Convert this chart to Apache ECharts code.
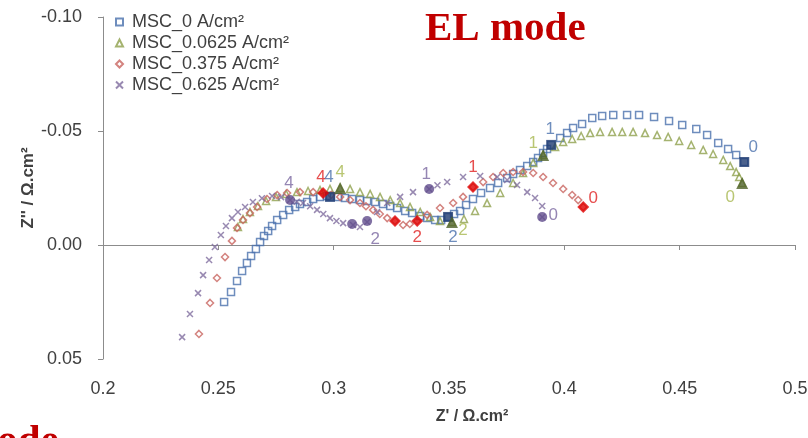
<!DOCTYPE html>
<html>
<head>
<meta charset="utf-8">
<script src="https://cdn.jsdelivr.net/npm/echarts@6/dist/echarts.min.js"></script>
<style>
  html, body { margin: 0; padding: 0; background: #fff; }
  #main { width: 808px; height: 438px; }
</style>
</head>
<body>
<div id="main"></div>
<script>
// Nyquist plot, EL mode. [Z', Z''] pairs, Z'' axis is drawn inverted
var names = ['MSC_0 A/cm²', 'MSC_0.0625 A/cm²', 'MSC_0.375 A/cm²', 'MSC_0.625 A/cm²'];

var msc0 = [
  [0.2525,0.0250],[0.2555,0.0206],[0.2581,0.0158],[0.2603,0.0114],[0.2624,0.0079],[0.2642,0.0048],
  [0.2663,0.0018],[0.2681,-0.0013],[0.2698,-0.0039],[0.2716,-0.0061],[0.2733,-0.0083],[0.2755,-0.0110],
  [0.2781,-0.0132],[0.2807,-0.0154],[0.2833,-0.0167],[0.2854,-0.0180],[0.2885,-0.0189],[0.2911,-0.0202],
  [0.2941,-0.0211],[0.2971,-0.0215],[0.2984,-0.0211],[0.3019,-0.0211],[0.3049,-0.0206],[0.3080,-0.0202],
  [0.3114,-0.0197],[0.3145,-0.0193],[0.3180,-0.0189],[0.3214,-0.0180],[0.3245,-0.0171],[0.3275,-0.0162],
  [0.3310,-0.0149],[0.3340,-0.0140],[0.3375,-0.0127],[0.3405,-0.0118],[0.3440,-0.0110],[0.3466,-0.0110],
  [0.3496,-0.0123],[0.3522,-0.0136],[0.3548,-0.0149],[0.3574,-0.0175],[0.3604,-0.0202],[0.3639,-0.0228],
  [0.3678,-0.0250],[0.3713,-0.0272],[0.3752,-0.0294],[0.3778,-0.0311],[0.3808,-0.0329],[0.3839,-0.0346],
  [0.3865,-0.0364],[0.3886,-0.0382],[0.3908,-0.0404],[0.3925,-0.0421],[0.3943,-0.0439],[0.3982,-0.0469],
  [0.4012,-0.0491],[0.4038,-0.0513],[0.4077,-0.0531],[0.4121,-0.0557],[0.4164,-0.0566],[0.4212,-0.0570],
  [0.4272,-0.0570],[0.4324,-0.0570],[0.4389,-0.0561],[0.4454,-0.0544],[0.4511,-0.0526],[0.4572,-0.0509],
  [0.4619,-0.0482],[0.4667,-0.0447],[0.4710,-0.0421],[0.4745,-0.0395],[0.4780,-0.0364]
];
var msc00625 = [
  [0.2585,-0.0079],[0.2607,-0.0114],[0.2637,-0.0145],[0.2672,-0.0171],[0.2707,-0.0193],[0.2750,-0.0211],
  [0.2794,-0.0224],[0.2841,-0.0232],[0.2889,-0.0237],[0.2941,-0.0241],[0.2984,-0.0246],[0.3028,-0.0250],
  [0.3071,-0.0246],[0.3114,-0.0232],[0.3158,-0.0224],[0.3201,-0.0211],[0.3245,-0.0197],[0.3288,-0.0184],
  [0.3331,-0.0167],[0.3375,-0.0145],[0.3418,-0.0123],[0.3461,-0.0105],[0.3513,-0.0101],[0.3565,-0.0114],
  [0.3613,-0.0149],[0.3665,-0.0184],[0.3722,-0.0228],[0.3778,-0.0272],[0.3821,-0.0316],[0.3865,-0.0360],
  [0.3908,-0.0395],[0.3960,-0.0430],[0.3995,-0.0452],[0.4034,-0.0465],[0.4073,-0.0478],[0.4112,-0.0491],
  [0.4155,-0.0496],[0.4207,-0.0496],[0.4251,-0.0496],[0.4298,-0.0496],[0.4350,-0.0491],[0.4402,-0.0482],
  [0.4450,-0.0474],[0.4498,-0.0456],[0.4550,-0.0439],[0.4602,-0.0417],[0.4645,-0.0399],[0.4689,-0.0373],
  [0.4719,-0.0346],[0.4745,-0.0320],[0.4758,-0.0298],[0.4771,-0.0272]
];
var msc0375 = [
  [0.2416,0.0390],[0.2464,0.0254],[0.2494,0.0145],[0.2529,0.0053],[0.2559,-0.0018],[0.2581,-0.0075],
  [0.2607,-0.0110],[0.2637,-0.0140],[0.2668,-0.0167],[0.2711,-0.0202],[0.2755,-0.0219],[0.2798,-0.0228],
  [0.2854,-0.0232],[0.2911,-0.0232],[0.2954,-0.0228],[0.2990,-0.0220],[0.3028,-0.0211],[0.3071,-0.0197],
  [0.3114,-0.0184],[0.3140,-0.0170],[0.3171,-0.0154],[0.3200,-0.0136],[0.3232,-0.0118],[0.3266,-0.0105],
  [0.3301,-0.0088],[0.3330,-0.0092],[0.3362,-0.0105],[0.3405,-0.0132],[0.3461,-0.0162],[0.3518,-0.0184],
  [0.3561,-0.0211],[0.3604,-0.0254],[0.3648,-0.0276],[0.3691,-0.0298],[0.3735,-0.0316],[0.3778,-0.0320],
  [0.3821,-0.0320],[0.3865,-0.0316],[0.3908,-0.0298],[0.3951,-0.0272],[0.3995,-0.0246],[0.4034,-0.0219],
  [0.4060,-0.0197],[0.4082,-0.0167]
];
var msc0625 = [
  [0.2343,0.0404],[0.2377,0.0303],[0.2412,0.0211],[0.2434,0.0132],[0.2460,0.0066],[0.2485,0.0009],
  [0.2511,-0.0044],[0.2533,-0.0083],[0.2559,-0.0118],[0.2585,-0.0145],[0.2616,-0.0167],[0.2650,-0.0189],
  [0.2689,-0.0205],[0.2733,-0.0215],[0.2772,-0.0210],[0.2811,-0.0197],[0.2840,-0.0190],[0.2867,-0.0184],
  [0.2898,-0.0170],[0.2928,-0.0154],[0.2955,-0.0136],[0.2984,-0.0118],[0.3012,-0.0105],[0.3041,-0.0096],
  [0.3084,-0.0088],[0.3114,-0.0079],[0.3145,-0.0101],[0.3188,-0.0145],[0.3232,-0.0184],[0.3288,-0.0211],
  [0.3344,-0.0232],[0.3414,-0.0246],[0.3450,-0.0262],[0.3492,-0.0276],[0.3561,-0.0298],[0.3635,-0.0303],
  [0.3709,-0.0298],[0.3752,-0.0285],[0.3795,-0.0263],[0.3839,-0.0232],[0.3873,-0.0206],[0.3904,-0.0171],
  [0.3904,-0.0123]
];

// highlighted frequency points: [Z', Z'', decade label]
var msc0Marks = [[0.2984,-0.0211,'4'],[0.3496,-0.0123,'2'],[0.3943,-0.0439,'1'],[0.4780,-0.0364,'0']];
var msc00625Marks = [[0.3028,-0.0250,'4'],[0.3513,-0.0101,'2'],[0.3908,-0.0395,'1'],[0.4771,-0.0272,'0']];
var msc0375Marks = [[0.2954,-0.0228,'4'],[0.3266,-0.0105,''],[0.3362,-0.0105,'2'],[0.3604,-0.0254,'1'],[0.4082,-0.0167,'0']];
var msc0625Marks = [[0.2811,-0.0197,'4'],[0.3080,-0.0092,''],[0.3145,-0.0105,'2'],[0.3414,-0.0246,'1'],[0.3904,-0.0123,'0']];

var xTicks = { min: 0.2, max: 0.5, step: 0.05 };
var yTicks = { min: -0.1, max: 0.05, step: 0.05 };

var font = 'Liberation Sans';
var axisGray = '#8c8c8c';
var xSym = 'path://M0,0L10,10M10,0L0,10';

function openSeries(name, data, symbol, size, color) {
  return {
    name: name, type: 'scatter', data: data, symbol: symbol, symbolSize: size,
    itemStyle: { color: 'rgba(255,255,255,0)', borderColor: color, borderWidth: 1.5 },
    emphasis: { disabled: true }, z: 2
  };
}

function markSeries(marks, symbol, size, fill, labelColor, offs) {
  return {
    type: 'scatter', symbol: symbol, symbolSize: size, z: 3,
    itemStyle: { color: fill },
    emphasis: { disabled: true },
    data: marks.map(function (m) {
      return {
        value: [m[0], m[1]],
        label: { show: m[2] !== '', formatter: m[2], offset: offs[m[2]] || [0, 0] }
      };
    }),
    label: { position: 'inside', fontSize: 17, fontFamily: font, color: labelColor }
  };
}

var chart = echarts.init(document.getElementById('main'));

chart.setOption({
  backgroundColor: '#fff',
  animation: false,
  title: {
    text: 'EL mode', left: 420, top: 4,
    textStyle: { fontFamily: 'Liberation Serif', fontWeight: 'bold', fontSize: 41, color: '#c00000' }
  },
  graphic: [{
    type: 'text', x: -37, y: 422,
    style: { text: 'mode', font: 'bold 41px "Liberation Serif"', fill: '#c00000' }
  }],
  legend: {
    data: names, orient: 'vertical', left: 110, top: 8,
    itemWidth: 7, itemHeight: 7, itemGap: 3,
    textStyle: { fontSize: 18, color: '#404040', fontFamily: font, padding: [0, 0, 0, 4] }
  },
  grid: { left: 103, top: 17, width: 692, height: 342, outerBoundsMode: 'none' },
  xAxis: [{
    // labels and title along the bottom
    type: 'value', position: 'bottom', min: xTicks.min, max: xTicks.max, interval: xTicks.step,
    axisLine: { show: false, onZero: false },
    axisTick: { show: false },
    axisLabel: { margin: 21, fontSize: 18, color: '#404040', fontFamily: font },
    splitLine: { show: false },
    name: "Z' / Ω.cm²", nameLocation: 'middle', nameGap: 50,
    nameTextStyle: { fontWeight: 'bold', fontSize: 16, color: '#404040', fontFamily: font, padding: [0, 0, 0, 46] }
  }, {
    // the line through Z'' = 0 with its ticks
    type: 'value', position: 'top', min: xTicks.min, max: xTicks.max, interval: xTicks.step,
    axisLine: { show: true, onZero: true, lineStyle: { color: axisGray } },
    axisTick: { show: true, inside: true, length: 5, lineStyle: { color: axisGray } },
    axisLabel: { show: false },
    splitLine: { show: false }
  }],
  yAxis: {
    type: 'value', inverse: true, min: yTicks.min, max: yTicks.max, interval: yTicks.step,
    axisLine: { show: true, onZero: false, lineStyle: { color: axisGray } },
    axisTick: { show: true, length: 5, lineStyle: { color: axisGray } },
    axisLabel: { margin: 21, fontSize: 18, color: '#404040', fontFamily: font,
      formatter: function (v) { return v.toFixed(2); } },
    splitLine: { show: false },
    name: "Z'' / Ω.cm²", nameLocation: 'middle', nameGap: 66, nameMoveOverlap: false,
    nameTextStyle: { fontWeight: 'bold', fontSize: 17, color: '#404040', fontFamily: font }
  },
  series: [
    openSeries(names[0], msc0, 'rect', 7, '#4a70ad'),
    openSeries(names[1], msc00625, 'triangle', 7, '#8fa04c'),
    openSeries(names[2], msc0375, 'diamond', 7, '#c8645f'),
    openSeries(names[3], msc0625, xSym, 6, '#7e6c9e'),
    markSeries(msc0Marks, 'rect', 10, '#1f3b70', '#4a70ad',
      { '4': [-1, -20], '2': [5, 20], '1': [-1, -16], '0': [9, -15] }),
    markSeries(msc00625Marks, 'triangle', 12, '#4f6228', '#a8b850',
      { '4': [0, -16], '2': [11, 8], '1': [-10, -12], '0': [-12, 14] }),
    markSeries(msc0375Marks, 'diamond', 12, '#e00000', '#e02020',
      { '4': [-2, -16], '2': [0, 16], '1': [0, -20], '0': [10, -9] }),
    markSeries(msc0625Marks, 'circle', 10, '#604c8c', '#7b68a0',
      { '4': [-1, -17], '2': [8, 18], '1': [-3, -15], '0': [11, -2] })
  ]
});
</script>
</body>
</html>
